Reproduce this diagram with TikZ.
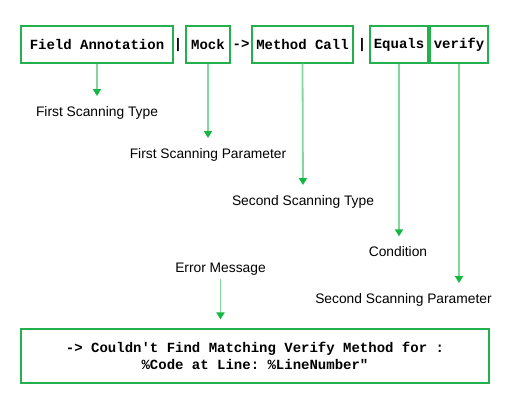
\documentclass[tikz,border=0pt]{standalone}
\usepackage{fontspec}
\setmainfont{Liberation Sans}
\setmonofont{Liberation Mono}
\usetikzlibrary{arrows.meta}
\definecolor{boxgreen}{HTML}{22B14C}
\definecolor{linkgreen}{HTML}{80D89A}
\definecolor{tipgreen}{HTML}{12B840}

\begin{document}
\begin{tikzpicture}[x = 1pt, y = -1pt,
    token/.style = {draw = boxgreen, line width = 1.2pt, minimum height = 37pt, inner sep = 0pt, font = \fontsize{14}{17}\selectfont\ttfamily\bfseries},
    sep/.style = {font = \fontsize{14}{17}\selectfont\ttfamily\bfseries},
    caption/.style = {font = \fontsize{13.8}{16}\selectfont},
    link/.style = {draw = linkgreen, line width = 1.8pt, shorten > = 7pt, -{Triangle[width = 8pt, length = 7pt, color = tipgreen]}}]
  \useasboundingbox (0,0) rectangle (514,419);
  % syntax row
  \node[token, minimum width = 152pt] (field) at (97,44.5) {Field Annotation};
  \node[sep] (barA) at (178,44.5) {|};
  \node[token, minimum width = 44pt] (mock) at (208,44.5) {Mock};
  \node[sep] (arrowSep) at (241,44.5) {->};
  \node[token, minimum width = 101pt] (call) at (302.5,44.5) {Method Call};
  \node[sep] (barB) at (362,44.5) {|};
  \node[token, minimum width = 58pt] (equals) at (399,44.5) {Equals};
  \node[token, minimum width = 58pt] (verify) at (459,44.5) {verify};
  % captions
  \node[caption] (typeLbl) at (97,113) {First Scanning Type};
  \node[caption] (paramLbl) at (208,155) {First Scanning Parameter};
  \node[caption] (typeTwoLbl) at (303,202) {Second Scanning Type};
  \node[caption] (condLbl) at (398,252) {Condition};
  \node[caption] (paramTwoLbl) at (403.5,300) {Second Scanning Parameter};
  \node[caption] (errLbl) at (220.5,269) {Error Message};
  % message
  \node[token, minimum width = 468pt, minimum height = 54pt, align = center] (msg) at (255,356)
    {-> Couldn't Find Matching Verify Method for :\\\%Code at Line: \%LineNumber"};
  \draw[link] (field.south) -- (typeLbl.north);
  \draw[link] (mock.south) -- (paramLbl.north);
  \draw[link] (call.south) -- (typeTwoLbl.north);
  \draw[link] (equals.south) -- (equals.south |- condLbl.north);
  \draw[link] (verify.south) -- (verify.south |- paramTwoLbl.north);
  \draw[link, shorten > = 9pt] (errLbl.south) -- (errLbl.south |- msg.north);
\end{tikzpicture}
\end{document}
